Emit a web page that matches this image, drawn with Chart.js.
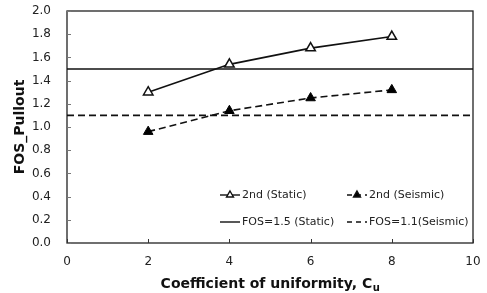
<!DOCTYPE html>
<html><head><meta charset="utf-8">
<script src="https://cdn.jsdelivr.net/npm/chart.js@4"></script>
<style>html,body{margin:0;padding:0;background:#fff}#w{width:487px;height:293px}</style>
</head><body><div id="w"><canvas id="c" width="487" height="293"></canvas></div>
<script>
const cu = [2, 4, 6, 8];
const staticFOS = [1.30, 1.54, 1.68, 1.78];
const seismicFOS = [0.96, 1.14, 1.25, 1.32];
const refX = [0, 10];
const staticLimit = [1.5, 1.5];
const seismicLimit = [1.1, 1.1];
const seriesNames = ['2nd (Static)', '2nd (Seismic)', 'FOS=1.5 (Static)', 'FOS=1.1(Seismic)'];
const xTitle = 'Coefficient of uniformity, C';
const xTitleSub = 'u';
const yTitle = 'FOS_Pullout';

const pts = (xs, ys) => xs.map((v, i) => ({x: v, y: ys[i]}));
const FONT = 'DejaVu Sans';

function tri(ctx, x, y, r, fill) {
  ctx.beginPath();
  ctx.moveTo(x, y - r);
  ctx.lineTo(x + r * 0.866, y + r * 0.5);
  ctx.lineTo(x - r * 0.866, y + r * 0.5);
  ctx.closePath();
  ctx.fillStyle = fill;
  ctx.fill();
  ctx.stroke();
}

const frame = {
  id: 'frame',
  beforeDatasetsDraw(chart) {
    const {ctx, chartArea: a, scales: {x, y}} = chart;
    ctx.save();
    ctx.strokeStyle = '#222';
    ctx.lineWidth = 1.3;
    ctx.strokeRect(a.left, a.top, a.right - a.left, a.bottom - a.top);
    ctx.lineWidth = 1;
    ctx.strokeStyle = '#777';
    y.ticks.forEach(t => {
      const py = Math.round(y.getPixelForValue(t.value)) + 0.5;
      ctx.beginPath(); ctx.moveTo(a.left, py); ctx.lineTo(a.left + 4, py); ctx.stroke();
    });
    ctx.strokeStyle = '#333';
    x.ticks.forEach(t => {
      const px = Math.round(x.getPixelForValue(t.value)) + 0.5;
      ctx.beginPath(); ctx.moveTo(px, a.bottom); ctx.lineTo(px, a.bottom - 4); ctx.stroke();
    });
    ctx.restore();
  },
  afterDraw(chart) {
    const {ctx, chartArea: a} = chart;
    ctx.save();
    ctx.fillStyle = '#111';
    ctx.textBaseline = 'alphabetic';
    ctx.font = `bold 14px "${FONT}"`;
    const w1 = ctx.measureText(xTitle).width;
    ctx.font = `bold 10px "${FONT}"`;
    const w2 = ctx.measureText(xTitleSub).width;
    const cx = (a.left + a.right) / 2;
    const sx = cx - (w1 + w2) / 2;
    ctx.font = `bold 14px "${FONT}"`;
    ctx.fillText(xTitle, sx, 288);
    ctx.font = `bold 10px "${FONT}"`;
    ctx.fillText(xTitleSub, sx + w1 + 0.5, 291);

    const c1 = a.left + 153, c2 = a.left + 280;
    const r1 = a.bottom - 48, r2 = a.bottom - 21;
    ctx.font = `11px "${FONT}"`;
    ctx.textBaseline = 'middle';
    ctx.strokeStyle = '#111';
    ctx.lineWidth = 1.4;
    const item = (x0, y0, dashed, marker, label) => {
      ctx.setLineDash(dashed ? [5, 4] : []);
      ctx.beginPath(); ctx.moveTo(x0, y0); ctx.lineTo(x0 + 20, y0); ctx.stroke();
      ctx.setLineDash([]);
      if (marker) tri(ctx, x0 + 10, y0, 4, marker);
      ctx.fillStyle = '#222';
      ctx.fillText(label, x0 + 22, y0);
    };
    item(c1, r1, false, '#fff', seriesNames[0]);
    item(c2, r1, true, '#000', seriesNames[1]);
    item(c1, r2, false, null, seriesNames[2]);
    item(c2, r2, true, null, seriesNames[3]);
    ctx.restore();
  }
};

new Chart(document.getElementById('c'), {
  type: 'scatter',
  data: {
    datasets: [
      {label: seriesNames[2], data: pts(refX, staticLimit), showLine: true, borderColor: '#111', borderWidth: 1.5, pointRadius: 0, order: 4},
      {label: seriesNames[3], data: pts(refX, seismicLimit), showLine: true, borderColor: '#111', borderWidth: 1.6, borderDash: [7, 4], pointRadius: 0, order: 3},
      {label: seriesNames[0], data: pts(cu, staticFOS), showLine: true, borderColor: '#111', borderWidth: 1.6,
        pointStyle: 'triangle', pointRadius: 5.5, pointBackgroundColor: '#fff', pointBorderColor: '#111', pointBorderWidth: 1.5, order: 1},
      {label: seriesNames[1], data: pts(cu, seismicFOS), showLine: true, borderColor: '#111', borderWidth: 1.6, borderDash: [7, 4],
        pointStyle: 'triangle', pointRadius: 5.5, pointBackgroundColor: '#000', pointBorderColor: '#000', pointBorderWidth: 1, order: 2}
    ]
  },
  options: {
    responsive: false,
    animation: false,
    devicePixelRatio: 1,
    layout: {padding: {top: 11, right: 14, left: 0, bottom: 0}},
    plugins: {legend: {display: false}, tooltip: {enabled: false}},
    scales: {
      x: {
        type: 'linear', min: 0, max: 10,
        ticks: {stepSize: 2, color: '#222', font: {family: FONT, size: 12}, padding: 2, maxRotation: 0},
        grid: {display: false, drawTicks: true, tickLength: 10},
        border: {display: false},
        afterFit: s => { s.height = 50; }
      },
      y: {
        min: 0, max: 2,
        ticks: {stepSize: 0.2, color: '#222', font: {family: FONT, size: 12}, padding: 2, callback: v => v.toFixed(1)},
        grid: {display: false, drawTicks: true, tickLength: 14},
        border: {display: false},
        title: {display: true, text: yTitle, color: '#111', font: {family: FONT, size: 14, weight: 'bold'}, padding: {top: 12, bottom: 0}},
        afterFit: s => { s.width = 67; }
      }
    }
  },
  plugins: [frame]
});
</script>
</body></html>
